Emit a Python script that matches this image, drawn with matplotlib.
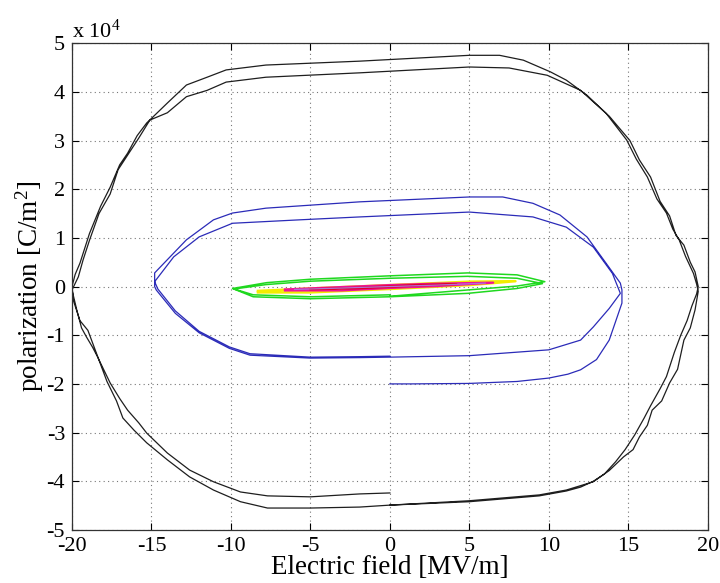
import matplotlib

matplotlib.use("Agg")
import matplotlib.pyplot as plt
from matplotlib.ticker import FuncFormatter, MultipleLocator

plt.rcParams["font.family"] = ["Liberation Serif", "DejaVu Serif"]
plt.rcParams["mathtext.fontset"] = "custom"
plt.rcParams["mathtext.rm"] = "Liberation Serif"
plt.rcParams["mathtext.default"] = "regular"
plt.rcParams["axes.unicode_minus"] = False

SCALE = 1e4  # polarization values below are in units of 10^4 C/m^2

# outer loop (E max ~ 20 MV/m), two cycles
BLACK_E = [0, 5, 9.4, 11.1, 12.8, 13.8, 14.7, 15.3, 15.7, 16.2, 16.5, 17.1, 17.6, 18.1, 18.5, 18.9,
           19.2, 19.4, 19.3, 19.1, 18.6, 18.2, 17.8, 17.4, 16.8, 16.2, 15.5, 14.9, 13.6, 12.4, 11.1,
           10.1, 8.4, 6.9, 5.0, -1.9, -7.8, -10.3, -11.5, -12.8, -14.0, -15.3, -15.9, -16.5, -17.0,
           -17.6, -18.2, -18.9, -19.5, -19.8, -20.0,
           -19.9, -19.5, -19.0, -18.6, -17.8, -17.2, -16.8, -16.1, -15.3, -14.0, -12.6, -11.1, -9.4,
           -7.7, -5.0, -1.9, 0,
           5, 9.4, 11.1, 12.0, 12.8, 13.5, 14.2, 14.8, 15.4, 16.0, 16.4, 17.0, 17.4, 17.9, 18.3, 18.7,
           19.0, 19.3, 19.4, 19.2, 18.9, 18.5, 18.0, 17.6, 17.0, 16.4, 15.7, 15.1, 13.8, 12.0,
           9.9, 7.5, 5.0, -1.9, -7.8, -10.3, -11.5, -12.8, -14.0, -15.1, -15.8, -16.5, -17.1, -17.6,
           -18.3, -18.9, -19.3, -19.6, -20.0,
           -19.7, -19.4, -19.1, -18.7, -18.4, -17.6, -17.0, -16.5, -15.8, -15.3, -14.0, -12.6, -11.1,
           -9.4, -7.7, -5.0, -1.9, 0]
BLACK_P = [-4.49, -4.40, -4.28, -4.18, -4.01, -3.78, -3.50, -3.35, -3.09, -2.85, -2.54, -2.35, -1.98,
           -1.70, -1.10, -0.85, -0.48, -0.10, 0.05, 0.27, 0.62, 0.96, 1.18, 1.51, 1.80, 2.25, 2.62,
           3.01, 3.56, 3.93, 4.24, 4.41, 4.65, 4.75, 4.75, 4.63, 4.55, 4.45, 4.30, 4.14, 3.77, 3.36,
           3.10, 2.74, 2.50, 2.04, 1.65, 1.09, 0.48, 0.25, 0.00,
           -0.30, -0.70, -0.90, -1.25, -1.95, -2.35, -2.70, -2.95, -3.21, -3.56, -3.91, -4.18, -4.42,
           -4.55, -4.55, -4.53, -4.49,
           -4.42, -4.30, -4.20, -4.12, -4.00, -3.85, -3.60, -3.35, -3.05, -2.70, -2.45, -2.10, -1.85,
           -1.35, -1.00, -0.70, -0.40, -0.15, 0.00, 0.30, 0.50, 0.85, 1.05, 1.45, 1.75, 2.25,
           2.60, 3.00, 3.50, 4.03, 4.34, 4.49, 4.51, 4.39, 4.30, 4.20, 4.03, 3.90, 3.57, 3.42, 3.05,
           2.70, 2.40, 1.90, 1.50, 0.95, 0.55, 0.20, -0.07,
           -0.48, -0.85, -1.03, -1.25, -1.44, -1.98, -2.30, -2.54, -2.80, -3.01, -3.42, -3.77, -4.01,
           -4.22, -4.30, -4.32, -4.26, -4.24]

# middle loop (E max ~ 15 MV/m), two cycles
BLUE_E = [0, 1.3, 5, 8, 10, 11.2, 12, 13, 13.8, 14.6, 14.6, 14.5, 13.6, 12.4, 10.7, 9.0, 7.1, 5.0,
          -1.9, -7.8, -9.9, -11.1, -12.8, -14.8, -14.8, -14.7, -13.5, -12.0, -10.1, -8.8, -5.0,
          -1.9, 0, 5, 10, 12, 12.8, 13.8, 14.5, 14.0, 12.8, 11.1, 9.0, 5.0, -1.9, -5.7, -9.9, -12.0,
          -13.6, -14.8, -14.6, -13.5, -12.0, -10.1, -8.8, -5.0, -1.9, 0]
BLUE_P = [-2.00, -2.00, -1.99, -1.95, -1.88, -1.80, -1.71, -1.50, -1.10, -0.34, -0.07, 0.07, 0.48,
          1.02, 1.47, 1.71, 1.84, 1.84, 1.74, 1.61, 1.51, 1.37, 0.96, 0.28, 0.00, -0.07, -0.55,
          -0.95, -1.27, -1.41, -1.47, -1.46, -1.45, -1.42, -1.30, -1.10, -0.83, -0.45, -0.14, 0.27,
          0.81, 1.22, 1.43, 1.53, 1.43, 1.37, 1.30, 1.02, 0.61, 0.10, -0.05, -0.50, -0.92, -1.24,
          -1.38, -1.45, -1.44, -1.43]

# small loops
GREEN_E = [0, 4.9, 8.0, 9.75, 8.0, 4.9, 0, -5.0, -7.75, -9.9, -8.6, -5.0, 0, 4.9, 8.0, 9.6, 8.0,
           4.9, 0, -5.0, -7.8, -9.8, -8.6, -5.0, 0]
GREEN_P = [-0.20, -0.07, 0.01, 0.10, 0.24, 0.28, 0.22, 0.15, 0.08, -0.04, -0.21, -0.25, -0.21,
           -0.14, -0.04, 0.06, 0.17, 0.21, 0.17, 0.11, 0.04, -0.05, -0.17, -0.21, -0.17]

YELLOW_E = [-8.3, -5.0, 0, 5.0, 7.9, 5.0, 0, -5.0, -8.3]
YELLOW_P = [-0.09, -0.04, 0.03, 0.10, 0.11, 0.03, -0.05, -0.12, -0.12]

MAGENTA_E = [-6.6, -3.0, 0, 3.0, 6.5, 3.0, 0, -3.0, -6.6]
MAGENTA_P = [-0.06, -0.01, 0.03, 0.06, 0.08, 0.01, -0.03, -0.08, -0.08]

RED_E = [-5.0, -2.0, 0, 2.0, 4.2, 2.0, 0, -2.0, -5.0]
RED_P = [-0.05, -0.02, 0.01, 0.04, 0.05, 0.02, -0.01, -0.04, -0.06]

VIOLET_E = [-6.0, -3.0, 0, 3.0, 6.0]
VIOLET_P = [-0.06, -0.03, 0.0, 0.03, 0.07]

LOOPS = [
    (BLACK_E, BLACK_P, "#1e1e1e", 0.9),
    (BLUE_E, BLUE_P, "#2b2bb8", 0.9),
    (GREEN_E, GREEN_P, "#1fd81f", 1.1),
    (YELLOW_E, YELLOW_P, "#f2ec00", 1.8),
    (MAGENTA_E, MAGENTA_P, "#f0109a", 1.6),
    (RED_E, RED_P, "#e0002a", 1.3),
    (VIOLET_E, VIOLET_P, "#b070d8", 0.9),
]

fig = plt.figure(figsize=(7.2, 5.83), dpi=100)
ax = fig.add_axes([0.1, 0.091, 0.883, 0.835])

for e_vals, p_vals, color, lw in LOOPS:
    assert len(e_vals) == len(p_vals)
    ax.plot(e_vals, [p * SCALE for p in p_vals], color=color, linewidth=lw)

ax.set_xlim(-20, 20)
ax.set_ylim(-5 * SCALE, 5 * SCALE)
ax.xaxis.set_major_locator(MultipleLocator(5))
ax.yaxis.set_major_locator(MultipleLocator(SCALE))
ax.yaxis.set_major_formatter(FuncFormatter(lambda v, pos: f"{v / SCALE:g}"))
ax.grid(True, linestyle=(0, (1, 3)), color="#777777", linewidth=0.8)
ax.tick_params(direction="in", top=True, right=True, length=5, width=0.8, labelsize=16, pad=5)
for spine in ax.spines.values():
    spine.set_linewidth(0.9)
    spine.set_color("#333333")

ax.text(0.0, 1.011, r"x 10$^4$", transform=ax.transAxes, fontsize=16, ha="left", va="baseline")
ax.set_xlabel("Electric field [MV/m]", fontsize=19.5, labelpad=-1)
ax.set_ylabel(r"polarization [C/m$^2$]", fontsize=19.5, labelpad=0.5)

fig.savefig("out.png", dpi=100)
